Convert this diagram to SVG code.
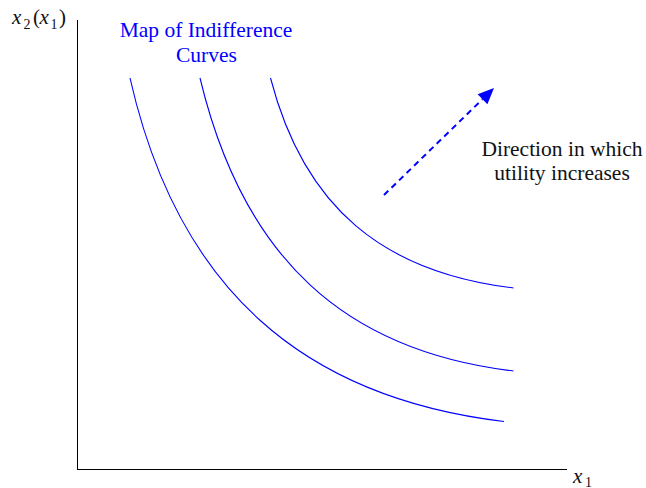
<svg xmlns="http://www.w3.org/2000/svg" width="646" height="488" viewBox="0 0 646 488">
  <style>
    .axis { stroke: #000; stroke-width: 1; fill: none; }
    .curve { stroke: #0000ff; stroke-width: 1.1; fill: none; }
    .lbl { font-family: "Liberation Serif", "Times New Roman", serif; font-size: 21.5px; }
    .blue { fill: #0000ff; }
    .dark { fill: #111; }
    .math { font-family: "Liberation Serif", "Times New Roman", serif; font-size: 21px; fill: #111; }
    .it { font-style: italic; }
    .sub { font-size: 14px; }
  </style>
  <defs>
    <marker id="head" markerUnits="userSpaceOnUse" markerWidth="18" markerHeight="16" viewBox="0 -8 17 16" refX="0" refY="0" orient="auto">
      <path d="M0,-7 L16,0 L0,7 Z" fill="#0000ff"/>
    </marker>
  </defs>

  <!-- axes -->
  <g id="axes">
    <line class="axis" x1="77.5" y1="20" x2="77.5" y2="469.5"/>
    <line class="axis" x1="77" y1="469.5" x2="567" y2="469.5"/>
    <text class="math" y="24"><tspan class="it" x="12">x</tspan><tspan class="sub" x="23.5" y="29">2</tspan><tspan x="33" y="24">(</tspan><tspan class="it" x="39.5">x</tspan><tspan class="sub" x="50.5" y="29">1</tspan><tspan x="59" y="24">)</tspan></text>
    <text class="math" y="482.5"><tspan class="it" x="573">x</tspan><tspan class="sub" x="585" y="486.5">1</tspan></text>
  </g>

  <!-- indifference curves -->
  <g id="curves">
    <path id="curve-low" class="curve" d="M130,78 C178,290 304,397.5 504,421.5"/>
    <path id="curve-mid" class="curve" d="M200,78 C243.4,259 345.5,351 513.5,371"/>
    <path id="curve-high" class="curve" d="M270.5,78 C304.3,208 383.5,272.4 513.5,288"/>
  </g>

  <g id="title">
    <text class="lbl blue" text-anchor="middle" x="206" y="37">Map of Indifference</text>
    <text class="lbl blue" text-anchor="middle" x="206.5" y="61.5">Curves</text>
  </g>

  <!-- direction of increasing utility -->
  <g id="connectors">
    <line x1="384" y1="195" x2="482.5" y2="99.2" stroke="#0000ff" stroke-width="2" stroke-dasharray="6 4.5" marker-end="url(#head)"/>
  </g>

  <g id="direction-note">
    <text class="lbl dark" text-anchor="middle" x="562" y="156">Direction in which</text>
    <text class="lbl dark" text-anchor="middle" x="562" y="179.5">utility increases</text>
  </g>
</svg>
